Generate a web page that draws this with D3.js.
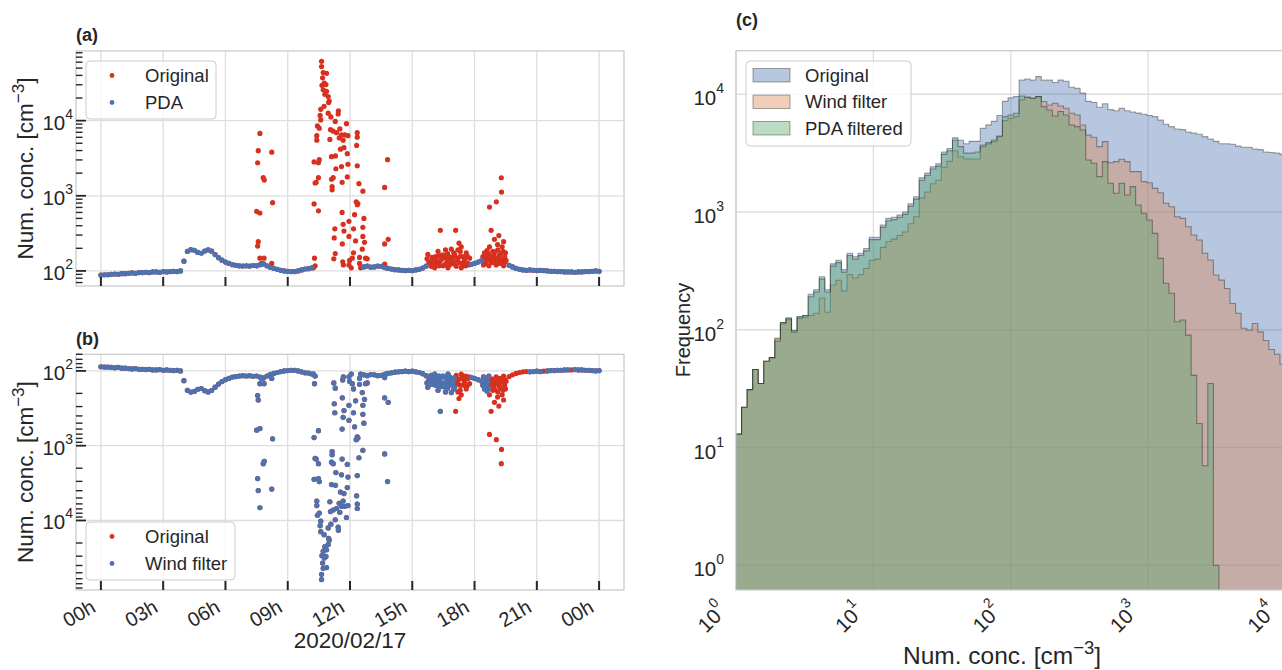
<!DOCTYPE html>
<html>
<head>
<meta charset="utf-8">
<script src="https://cdn.jsdelivr.net/npm/d3@7"></script>
<style>
  body { margin: 0; background: #fff; }
  svg { display: block; }
  text { font-family: "Liberation Sans", Arial, sans-serif; fill: #262626; }
</style>
</head>
<body>
<svg id="fig" width="1282" height="670"></svg>
<script>
// ---------------- time series, 2020/02/17 ----------------
// Clean background concentration, one value every 10 minutes from 00:00 (null = contaminated period)
const baseStepMin = 10;
const baseConc = [
  88, 89, 89, 90, 91, 90, 92, 92, 93, 94,
  93, 95, 95, 96, 95, 97, 97, 96, 98, 97,
  98, 99, 98, 100, 135, 182, 192, 188, 176, 172,
  184, 191, 183, 165, 150, 139, 131, 126, 121, 119,
  117, 116, 117, 116, 118, 117, 121, 124, 117, 111,
  108, 105, 102, 100, 99, 98, 98, 100, 103, 106,
  107, 110, null, null, null, null, null, null, null, null,
  null, null, null, null, null, null, 113, 116, 112, 113,
  116, 115, 111, 108, 106, 104, 103, 102, 101, 102,
  101, 103, 105, 109, 116, null, null, null, null, null,
  null, null, null, null, null, null, null, 122, 126, 131,
  137, null, null, null, null, null, null, null, 119, 113,
  108, 105, 103, 102, 103, 102, 101, 102, 101, 100,
  99, 99, 98, 98, 97, 97, 97, 96, 97, 97,
  98, 98, 99, 100, 99
];

// Contamination events (hour of day, cm^-3)
const spikeHour = [
  // 07:30-08:20
  7.50, 7.55, 7.55, 7.58, 7.58, 7.66, 7.66, 7.66, 7.74, 7.82, 7.86, 7.87, 8.23, 8.23, 8.27,
  // 10:15-13:50
  10.24, 10.27, 10.27, 10.29, 10.32, 10.32, 10.37, 10.40, 10.40, 10.43, 10.48, 10.48, 10.48, 10.52, 10.52,
  10.56, 10.59, 10.59, 10.63, 10.63, 10.65, 10.68, 10.71, 10.71, 10.75, 10.76, 10.79, 10.84, 10.87, 10.87,
  10.95, 10.95, 10.97, 11.00, 11.03, 11.06, 11.08, 11.11, 11.11, 11.14, 11.14, 11.19, 11.19, 11.22, 11.24,
  11.27, 11.29, 11.29, 11.30, 11.32, 11.35, 11.43, 11.44, 11.48, 11.51, 11.54, 11.59, 11.59, 11.62, 11.62,
  11.63, 11.65, 11.67, 11.67, 11.68, 11.71, 11.71, 11.75, 11.83, 11.87, 11.87, 11.90, 11.90, 11.95, 11.95,
  11.95, 11.98, 12.06, 12.11, 12.17, 12.17, 12.22, 12.27, 12.30, 12.32, 12.35, 12.35, 12.35, 12.35, 12.38,
  12.43, 12.46, 12.46, 12.51, 12.59, 12.62, 12.62, 12.62, 12.67, 12.70, 12.75, 12.83, 13.67, 13.67, 13.67,
  13.73, 13.81, 13.84,
  // 15:40-17:50
  15.71, 15.75, 15.80, 15.83, 15.91, 15.95, 16.00, 16.05, 16.08, 16.12, 16.15, 16.19, 16.24, 16.27, 16.29,
  16.32, 16.35, 16.40, 16.43, 16.48, 16.51, 16.55, 16.56, 16.60, 16.64, 16.67, 16.70, 16.72, 16.77, 16.80,
  16.85, 16.88, 16.93, 16.96, 17.00, 17.02, 17.04, 17.09, 17.12, 17.15, 17.18, 17.20, 17.25, 17.25, 17.30,
  17.31, 17.36, 17.36, 17.41, 17.44, 17.47, 17.52, 17.57, 17.60, 17.65, 17.68, 17.72, 17.76,
  // 18:25-19:35
  18.40, 18.43, 18.45, 18.48, 18.53, 18.58, 18.60, 18.60, 18.64, 18.66, 18.69, 18.72, 18.72, 18.76, 18.78,
  18.80, 18.82, 18.85, 18.88, 18.90, 18.93, 18.96, 18.98, 19.01, 19.04, 19.05, 19.08, 19.11, 19.12, 19.16,
  19.17, 19.20, 19.20, 19.25, 19.29, 19.29, 19.30, 19.33, 19.35, 19.37, 19.40, 19.40, 19.43, 19.45, 19.49,
  19.49, 19.52
];
const spikeConc = [
  620, 2750, 214, 3980, 245, 6760, 590, 148, 126, 1740, 148, 1620, 3800, 126, 810,
  110, 2820, 780, 148, 117, 1480, 1510, 6310, 5500, 8510, 2750, 1740, 630, 7940, 3020,
  11750, 14130, 10230, 61660, 52480, 29510, 37150, 43650, 25700, 15490, 31620, 22390, 30200, 42660, 24550,
  20890, 12590, 17380, 18200, 5620, 7590, 11220, 3310, 1660, 1320, 1200, 7240, 1740, 145, 275,
  363, 9770, 170, 3390, 2290, 6920, 12300, 13490, 5890, 7760, 4170, 6460, 2450, 1510, 600,
  229, 132, 5500, 417, 120, 4370, 339, 6460, 9120, 3630, 1780, 6310, 2630, 457, 288,
  120, 138, 110, 148, 363, 174, 560, 251, 830, 4680, 6920, 6030, 2510, 760, 790,
  1450, 151, 126, 110, 195, 1150, 380, 288, 500, 240, 148, 145, 1290, 229, 123,
  110, 3020, 263,
  145, 166, 132, 126, 115, 151, 141, 126, 110, 155, 138, 120, 182, 158, 117,
  132, 347, 141, 162, 117, 162, 120, 151, 191, 126, 141, 170, 110, 155, 120,
  135, 195, 151, 132, 174, 124, 166, 347, 115, 148, 138, 191, 234, 129, 155,
  182, 209, 110, 117, 155, 130, 141, 117, 174, 158, 126, 120, 148,
  155, 120, 138, 174, 126, 158, 186, 145, 141, 170, 117, 708, 209, 155, 132,
  347, 145, 129, 182, 141, 162, 263, 178, 148, 120, 832, 135, 224, 191, 150,
  295, 162, 126, 170, 1738, 141, 1122, 209, 128, 182, 245, 117, 145, 155, 132,
  174, 138
];

// Periods (hour of day) rejected by the wind-direction filter
const windDropped = [[17.05, 17.8], [18.7, 20.55], [21.3, 21.4], [22.55, 22.7]];

// ---------------- histogram of number concentration ----------------
const binLogWidth = 0.0404;   // log-spaced bins starting at 1 cm^-3
const origCount = [
  13, 22, 31, 46, 35, 54, 58, 83, 115, 126,
  98, 129, 132, 200, 219, 282, 219, 363, 389, 324,
  447, 417, 447, 490, 610, 610, 776, 883, 902, 944,
  1000, 1175, 1349, 1950, 2138, 2427, 2570, 3236, 3467, 4266,
  4074, 3802, 3981, 3981, 5129, 5495, 5888, 6607, 8710, 9333,
  9550, 13183, 13490, 13183, 14125, 13183, 13183, 12589, 13183, 12882,
  11482, 11220, 10233, 8710, 8511, 7762, 8318, 7413, 7244, 7586,
  7244, 7079, 6918, 6761, 6607, 6457, 6026, 5559, 5309, 5070,
  5012, 4786, 4677, 4571, 4365, 4169, 3981, 3802, 3802, 3758,
  3631, 3548, 3548, 3428, 3388, 3236, 3199, 3162, 3090, 3020
];
const windCount = [
  13, 22, 31, 46, 35, 54, 58, 85, 112, 122,
  95, 125, 128, 132, 138, 186, 141, 240, 263, 214,
  295, 275, 295, 331, 389, 398, 501, 562, 589, 631,
  676, 794, 912, 1318, 1479, 1738, 1862, 2399, 2692, 3311,
  2951, 2818, 2818, 2818, 3589, 3784, 3963, 4365, 5970, 6252,
  6457, 8954, 9441, 9250, 9550, 8670, 8110, 8395, 7943, 7603,
  6897, 6668, 5483, 4508, 4315, 3589, 3963, 2624, 2680, 2805,
  2680, 2203, 2203, 1811, 1774, 1589, 1459, 1186, 1110, 912,
  883, 750, 638, 578, 446, 391, 292, 264, 224, 167,
  138, 103, 99, 113, 96, 81, 68, 62, 51, 49
];
const pdaCount = [
  13, 22, 31, 46, 35, 54, 58, 80, 115, 126,
  98, 129, 132, 191, 209, 269, 209, 347, 372, 309,
  427, 398, 427, 468, 583, 583, 741, 843, 861, 902,
  955, 1122, 1288, 1862, 2042, 2317, 2455, 3090, 3311, 4074,
  3589, 3162, 3162, 3236, 3707, 3882, 4093, 4427, 6457, 6668,
  6897, 9680, 9441, 9250, 9550, 7852, 7362, 6546, 7129, 6668,
  5483, 5309, 4977, 2767, 2594, 1997, 2680, 1754, 1442, 1754,
  1396, 1642, 1148, 975, 855, 659, 404, 248, 204, 117,
  121, 90, 41, 16, 7, 35, 1, 0, 0, 0,
  0, 0, 0, 0, 0, 0, 0, 0, 0, 0
];

const histSeries = [
  { name: "Original", counts: origCount, color: "#4c72b0" },
  { name: "Wind filter", counts: windCount, color: "#dd8452" },
  { name: "PDA filtered", counts: pdaCount, color: "#55a868" }
];

const RED = "#d7301f", BLUE = "#4c72b0";
const GRID = "#dedede", FRAME = "#cccccc", INK = "#262626";
const DOT_R = 2.6;

// ---------------- derived point sets ----------------
const day0 = Date.UTC(2020, 1, 17);
const toDate = h => new Date(day0 + h * 3600e3);
const baseHour = baseConc.map((_, i) => i * baseStepMin / 60);
const basePts = baseConc.map((v, i) => ({ h: baseHour[i], v })).filter(d => d.v != null);
const spikePts = spikeHour.map((h, i) => ({ h, v: spikeConc[i] }));
const originalPts = basePts.concat(spikePts);
const pdaPts = basePts;
const dropped = h => windDropped.some(([a, b]) => h >= a && h <= b);
const windPts = originalPts.filter(d => !dropped(d.h));

// ---------------- layout ----------------
const svg = d3.select("#fig");
const A = { l: 76, r: 624, t: 51, b: 286 };
const B = { l: 76, r: 624, t: 354.3, b: 590 };
const C = { l: 736, r: 1326.8, t: 50.7, b: 590 };

const x = d3.scaleUtc()
  .domain([toDate(-1.2), toDate(25.2)])
  .range([A.l, A.r]);
const timeTicks = x.ticks(d3.utcHour.every(3));
const fmtHour = d3.utcFormat("%Hh");

const yA = d3.scaleLog().domain([63, 84500]).range([A.b, A.t]);
const yB = d3.scaleLog().domain([60, 85000]).range([B.t, B.b]);

function superText(sel, base, exp, size, supSize, supDy) {
  sel.style("font-size", size + "px");
  sel.append("tspan").text(base);
  sel.append("tspan").attr("dy", supDy).style("font-size", supSize + "px").text(exp);
}

function unitLabel(sel, size, supSize, rise) {
  sel.style("font-size", size + "px");
  sel.append("tspan").text("Num. conc. [cm");
  sel.append("tspan").attr("dy", -rise).style("font-size", supSize + "px").text("\u22123");
  sel.append("tspan").attr("dy", rise).text("]");
}

function timePanel(P, y, series, legendItems, legendBox, showXLabels, title, titleY) {
  const g = svg.append("g");
  // grid
  g.selectAll(null).data(timeTicks).join("line")
    .attr("x1", d => x(d)).attr("x2", d => x(d))
    .attr("y1", P.t).attr("y2", P.b)
    .attr("stroke", GRID).attr("stroke-width", 1.3);
  const decades = [1e2, 1e3, 1e4];
  g.selectAll(null).data(decades).join("line")
    .attr("x1", P.l).attr("x2", P.r)
    .attr("y1", d => y(d)).attr("y2", d => y(d))
    .attr("stroke", GRID).attr("stroke-width", 1.3);

  // points
  series.forEach(s => {
    g.append("g").selectAll("circle").data(s.pts).join("circle")
      .attr("cx", d => x(toDate(d.h)))
      .attr("cy", d => y(d.v))
      .attr("r", DOT_R)
      .attr("fill", s.color);
  });

  // frame
  g.append("rect").attr("x", P.l).attr("y", P.t)
    .attr("width", P.r - P.l).attr("height", P.b - P.t)
    .attr("fill", "none").attr("stroke", FRAME).attr("stroke-width", 1.3);

  // inward ticks
  g.selectAll(null).data(timeTicks).join("line")
    .attr("x1", d => x(d)).attr("x2", d => x(d))
    .attr("y1", P.b).attr("y2", P.b - 9)
    .attr("stroke", INK).attr("stroke-width", 2);
  const [lo, hi] = y.domain();
  const yTicks = [];
  for (let e = 1; e <= 4; e++) for (let k = 1; k <= 9; k++) {
    const v = k * Math.pow(10, e);
    if (v >= lo && v <= hi) yTicks.push({ v, major: k === 1 });
  }
  g.selectAll(null).data(yTicks).join("line")
    .attr("x1", P.l).attr("x2", d => P.l + (d.major ? 10 : 6.5))
    .attr("y1", d => y(d.v)).attr("y2", d => y(d.v))
    .attr("stroke", INK).attr("stroke-width", d => d.major ? 1.8 : 1.4);

  // y tick labels
  decades.forEach(v => {
    const t = g.append("text").attr("x", 73).attr("y", y(v) + 9).attr("text-anchor", "end");
    superText(t, "10", String(Math.round(Math.log10(v))), 20.5, 14, -11);
  });

  // y label
  const yl = g.append("text")
    .attr("transform", `translate(33,${(P.t + P.b) / 2}) rotate(-90)`)
    .attr("text-anchor", "middle");
  unitLabel(yl, 22.5, 17, 9);

  // title
  g.append("text").attr("x", P.l).attr("y", titleY)
    .style("font-size", "18px").style("font-weight", "bold").text(title);

  if (showXLabels) {
    timeTicks.forEach(d => {
      g.append("text")
        .attr("transform", `translate(${x(d) - 4},${P.b + 21}) rotate(-30)`)
        .attr("text-anchor", "end").style("font-size", "20px")
        .text(fmtHour(d));
    });
    g.append("text").attr("x", (P.l + P.r) / 2).attr("y", 648)
      .attr("text-anchor", "middle").style("font-size", "22.5px").text("2020/02/17");
  }

  // legend
  const lg = g.append("g");
  lg.append("rect").attr("x", legendBox.x).attr("y", legendBox.y)
    .attr("width", legendBox.w).attr("height", legendBox.h).attr("rx", 4)
    .attr("fill", "#fff").attr("fill-opacity", 0.8)
    .attr("stroke", FRAME).attr("stroke-width", 1);
  legendItems.forEach((it, i) => {
    const cy = legendBox.y + 14.5 + i * 27;
    lg.append("circle").attr("cx", legendBox.x + 26).attr("cy", cy).attr("r", 2.4).attr("fill", it.color);
    lg.append("text").attr("x", legendBox.x + 59).attr("y", cy + 6.5)
      .style("font-size", "18.5px").text(it.label);
  });
}

timePanel(A, yA,
  [{ pts: originalPts, color: RED }, { pts: pdaPts, color: BLUE }],
  [{ label: "Original", color: RED }, { label: "PDA", color: BLUE }],
  { x: 86, y: 61, w: 130, h: 58 }, false, "(a)", 41);

timePanel(B, yB,
  [{ pts: originalPts, color: RED }, { pts: windPts, color: BLUE }],
  [{ label: "Original", color: RED }, { label: "Wind filter", color: BLUE }],
  { x: 86, y: 522, w: 149, h: 58 }, true, "(b)", 345);

// ---------------- histogram panel ----------------
const xC = d3.scaleLog().domain([1, Math.pow(10, 4.3)]).range([C.l, C.r]);
const yC = d3.scaleLog().domain([Math.pow(10, -0.21), Math.pow(10, 4.37)]).range([C.b, C.t]);
const gc = svg.append("g");
gc.append("clipPath").attr("id", "clipC").append("rect")
  .attr("x", C.l).attr("y", C.t).attr("width", C.r - C.l).attr("height", C.b - C.t);

const cDecX = [1, 10, 100, 1000, 10000];
const cDecY = [1, 10, 100, 1000, 10000];
gc.selectAll(null).data(cDecX).join("line")
  .attr("x1", d => xC(d)).attr("x2", d => xC(d)).attr("y1", C.t).attr("y2", C.b)
  .attr("stroke", GRID).attr("stroke-width", 1.3);
gc.selectAll(null).data(cDecY).join("line")
  .attr("x1", C.l).attr("x2", C.r).attr("y1", d => yC(d)).attr("y2", d => yC(d))
  .attr("stroke", GRID).attr("stroke-width", 1.3);

const binEdge = i => Math.pow(10, i * binLogWidth);
function stepPath(counts) {
  let d = `M${xC(binEdge(0))},${C.b + 2}`;
  counts.forEach((c, i) => {
    const yy = c > 0 ? yC(c) : C.b + 2;
    d += `V${yy}H${xC(binEdge(i + 1))}`;
  });
  d += `V${C.b + 2}Z`;
  return d;
}
const hg = gc.append("g").attr("clip-path", "url(#clipC)");
histSeries.forEach(s => {
  hg.append("path").attr("d", stepPath(s.counts))
    .attr("fill", s.color).attr("fill-opacity", 0.4)
    .attr("stroke", "#000").attr("stroke-opacity", 0.35).attr("stroke-width", 1.1);
});

gc.append("rect").attr("x", C.l).attr("y", C.t)
  .attr("width", C.r - C.l).attr("height", C.b - C.t)
  .attr("fill", "none").attr("stroke", FRAME).attr("stroke-width", 1.3);

cDecY.forEach(v => {
  const t = gc.append("text").attr("x", 724).attr("y", yC(v) + 11).attr("text-anchor", "end");
  superText(t, "10", String(Math.round(Math.log10(v))), 20.5, 14, -12);
});
cDecX.forEach(v => {
  const t = gc.append("text")
    .attr("transform", `translate(${xC(v) - 8},612) rotate(-45)`)
    .attr("text-anchor", "end");
  superText(t, "10", String(Math.round(Math.log10(v))), 20.5, 14, -12);
});

gc.append("text").attr("transform", `translate(690,330) rotate(-90)`)
  .attr("text-anchor", "middle").style("font-size", "20px").text("Frequency");
const xl = gc.append("text").attr("x", 1002).attr("y", 664).attr("text-anchor", "middle");
unitLabel(xl, 24.5, 18.5, 10);

gc.append("text").attr("x", 736).attr("y", 26)
  .style("font-size", "18px").style("font-weight", "bold").text("(c)");

// legend
const lc = gc.append("g");
lc.append("rect").attr("x", 746).attr("y", 61).attr("width", 165).attr("height", 85).attr("rx", 4)
  .attr("fill", "#fff").attr("fill-opacity", 0.8).attr("stroke", FRAME).attr("stroke-width", 1);
histSeries.forEach((s, i) => {
  const yy = 68.5 + i * 26.5;
  lc.append("rect").attr("x", 753).attr("y", yy).attr("width", 37).attr("height", 13.5)
    .attr("fill", s.color).attr("fill-opacity", 0.4)
    .attr("stroke", "#000").attr("stroke-opacity", 0.35).attr("stroke-width", 1);
  lc.append("text").attr("x", 805).attr("y", yy + 13).style("font-size", "18.5px").text(s.name);
});
</script>
</body>
</html>
